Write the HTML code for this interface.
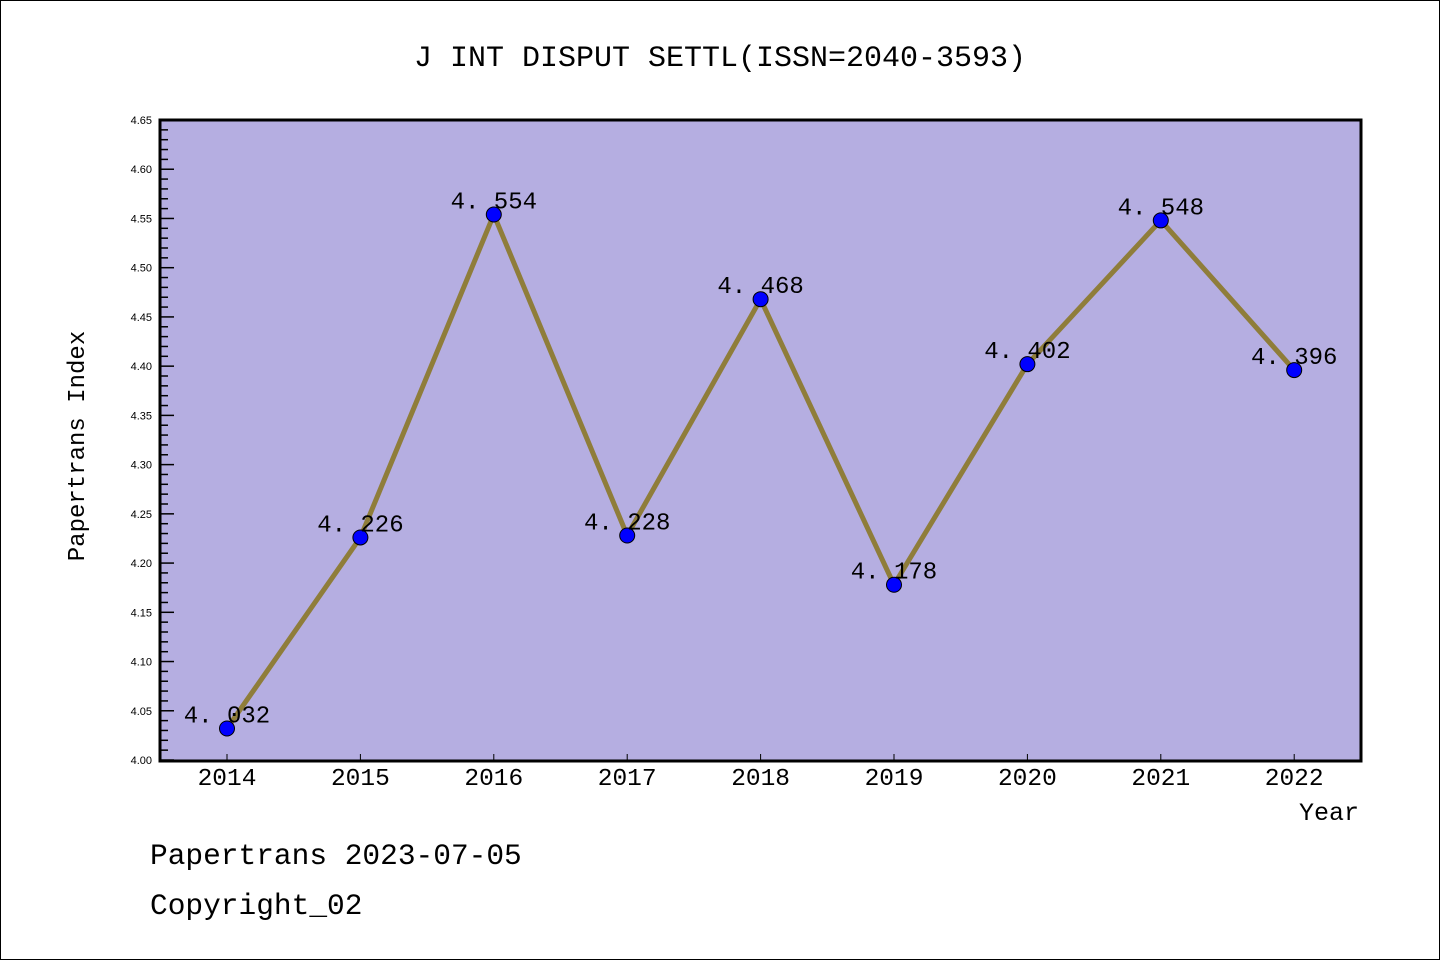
<!DOCTYPE html>
<html><head><meta charset="utf-8"><style>
body{margin:0;background:#fff}
svg{display:block;font-family:"Liberation Mono","Noto Sans CJK SC",monospace}
</style></head><body>
<svg id="chart" width="1440" height="960" xmlns="http://www.w3.org/2000/svg">
<rect x="0.5" y="0.5" width="1439" height="959" fill="#fff" stroke="#000"/>
<text x="720" y="66" text-anchor="middle" font-size="30">J INT DISPUT SETTL(ISSN=2040-3593)</text>
<rect x="160" y="120" width="1201" height="641" fill="#b5aee1"/>
<g id="yaxis"></g>
<g id="xaxis"></g>
<g id="series"></g>
<rect x="160" y="120" width="1201" height="641" fill="none" stroke="#000" stroke-width="3"/>
<text transform="translate(84,446) rotate(-90)" text-anchor="middle" font-size="24">Papertrans Index</text>
<text x="1359" y="820" text-anchor="end" font-size="25">Year</text>
<text x="150" y="864" font-size="29.5">Papertrans 2023-07-05</text>
<text x="150" y="914" font-size="29.5">Copyright_02</text>
</svg>
<script>
const years=[2014,2015,2016,2017,2018,2019,2020,2021,2022];
const values=[4.032,4.226,4.554,4.228,4.468,4.178,4.402,4.548,4.396];
const yTicks=["4.00","4.05","4.10","4.15","4.20","4.25","4.30","4.35","4.40","4.45","4.50","4.55","4.60","4.65"];
const NS="http://www.w3.org/2000/svg";
const yMin=4.0,yMax=4.65,plotTop=120,plotBot=760;
function yS(v){return plotBot-(v-yMin)/(yMax-yMin)*(plotBot-plotTop);}
function xS(i){return 227+i*133.4;}
function mk(t,a,p,txt){const e=document.createElementNS(NS,t);for(const k in a)e.setAttribute(k,a[k]);if(txt!==undefined)e.textContent=txt;p.appendChild(e);return e;}
const ya=document.getElementById('yaxis');
for(let k=0;k<=65;k++){const v=yMin+k*0.01;const y=yS(v);const major=k%5===0;
const t=mk('line',{x1:160,x2:major?174:168,y1:y,y2:y,stroke:'#000','stroke-width':1.5},ya);

}
yTicks.forEach(s=>{const y=yS(parseFloat(s));const t=mk('text',{x:152,y:y+4,'text-anchor':'end','font-size':11,'font-family':'Liberation Sans, sans-serif'},ya,s);

});
const xa=document.getElementById('xaxis');
years.forEach((yr,i)=>{const x=xS(i);
const t=mk('line',{x1:x,x2:x,y1:754,y2:760,stroke:'#000','stroke-width':1},xa);


const l=mk('text',{x:x,y:785,'text-anchor':'middle','font-size':24.5},xa,yr);

});
const sg=document.getElementById('series');
const pts=values.map((v,i)=>xS(i)+','+yS(v)).join(' ');
const pl=mk('polyline',{points:pts,fill:'none',stroke:'#8f7d3a','stroke-width':5,'stroke-linejoin':'round'},sg);


values.forEach((v,i)=>{const x=xS(i),y=yS(v);
const c=mk('circle',{cx:x,cy:y,r:7.5,fill:'#0000ff',stroke:'#000','stroke-width':1},sg);


const t=mk('text',{x:x,y:y-6,'text-anchor':'middle','font-size':24},sg,v.toFixed(3).replace('.','. '));

});
</script>
</body></html>
